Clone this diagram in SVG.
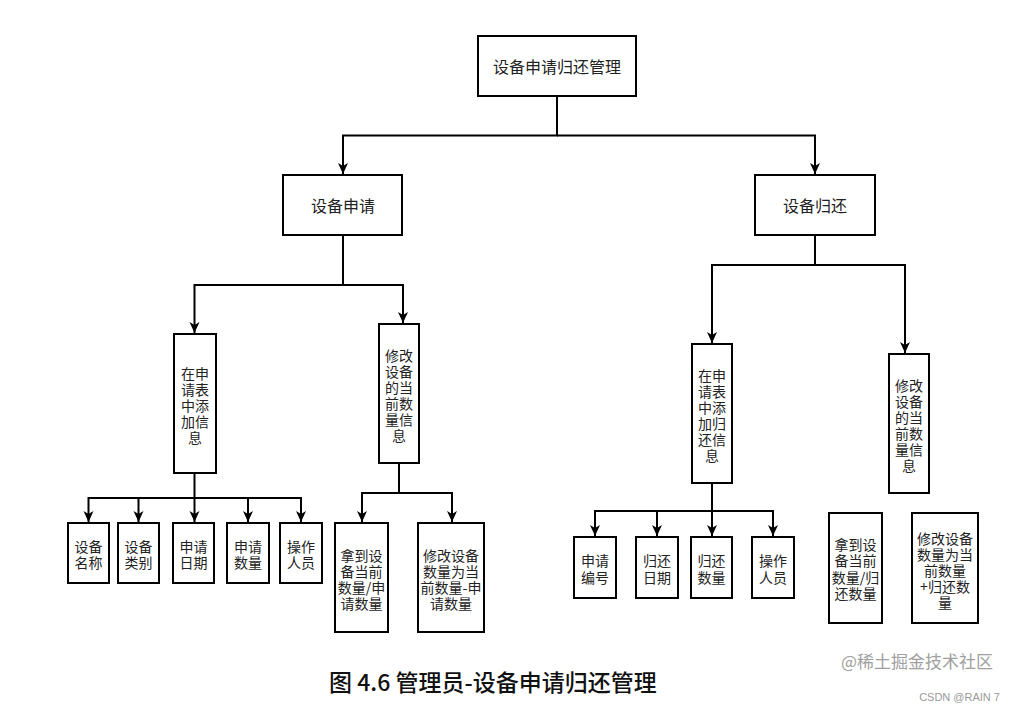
<svg xmlns="http://www.w3.org/2000/svg" width="1014" height="711" viewBox="0 0 1014 711">
<style>
.box{fill:#fff;stroke:#000;stroke-width:2}
.c{fill:none;stroke:#000;stroke-width:2}
.t{font-family:"Noto Sans CJK SC","Noto Sans",sans-serif;font-size:14px;text-anchor:middle;dominant-baseline:central;fill:#222}
.t16{font-size:16px}
.cap{font-family:"Noto Sans CJK SC","Noto Sans",sans-serif;font-size:23px;font-weight:500;fill:#111;dominant-baseline:central}
.wm{font-family:"Noto Sans CJK SC","Noto Sans",sans-serif;font-size:17px;fill:#a0a0a0;text-anchor:end;dominant-baseline:central}
.wm2{font-family:"Liberation Sans",sans-serif;font-size:11px;fill:#999;text-anchor:end;dominant-baseline:central}
</style>
<defs>
<marker id="arr" markerUnits="userSpaceOnUse" markerWidth="12" markerHeight="12" viewBox="0 0 12 12" refX="11" refY="6" orient="auto">
<path d="M0,1 L11,6 L0,11 L3,6 z" fill="#000"/>
</marker>
</defs>
<rect width="1014" height="711" fill="#fff"/>

<g id="connectors">
<path class="c" d="M557,96 V135.5 H343 V174" marker-end="url(#arr)"/>
<path class="c" d="M557,135.5 H815 V174" marker-end="url(#arr)"/>
<path class="c" d="M343,235 V285 H194.5 V333" marker-end="url(#arr)"/>
<path class="c" d="M343,285 H403 V323" marker-end="url(#arr)"/>
<path class="c" d="M815,235 V265 H712 V343" marker-end="url(#arr)"/>
<path class="c" d="M815,265 H905 V353" marker-end="url(#arr)"/>
<path class="c" d="M194.5,473 V498 H88.5 V522" marker-end="url(#arr)"/>
<path class="c" d="M194.5,498 H138.5 V522" marker-end="url(#arr)"/>
<path class="c" d="M194.5,498 V522" marker-end="url(#arr)"/>
<path class="c" d="M194.5,498 H248 V522" marker-end="url(#arr)"/>
<path class="c" d="M194.5,498 H301 V522" marker-end="url(#arr)"/>
<path class="c" d="M399,463 V493 H362 V522" marker-end="url(#arr)"/>
<path class="c" d="M399,493 H452 V522" marker-end="url(#arr)"/>
<path class="c" d="M712,483 V511 H595 V536" marker-end="url(#arr)"/>
<path class="c" d="M712,511 H657 V536" marker-end="url(#arr)"/>
<path class="c" d="M712,511 V536" marker-end="url(#arr)"/>
<path class="c" d="M712,511 H773 V536" marker-end="url(#arr)"/>
</g>

<g id="root">
<rect class="box" x="478" y="36" width="158" height="60"/>
<text class="t t16" x="557" y="66">设备申请归还管理</text>
</g>
<g id="apply">
<rect class="box" x="283" y="175" width="119" height="60"/>
<text class="t t16" x="343" y="205">设备申请</text>
</g>
<g id="return">
<rect class="box" x="755" y="175" width="120" height="60"/>
<text class="t t16" x="815" y="205">设备归还</text>
</g>

<g id="apply-add">
<rect class="box" x="174" y="334" width="42" height="139"/>
<text class="t" x="195" y="372.5"><tspan x="195">在申</tspan><tspan x="195" dy="16">请表</tspan><tspan x="195" dy="16">中添</tspan><tspan x="195" dy="16">加信</tspan><tspan x="195" dy="16">息</tspan></text>
</g>
<g id="apply-modify">
<rect class="box" x="379" y="324" width="40" height="139"/>
<text class="t" x="399" y="354.5"><tspan x="399">修改</tspan><tspan x="399" dy="16">设备</tspan><tspan x="399" dy="16">的当</tspan><tspan x="399" dy="16">前数</tspan><tspan x="399" dy="16">量信</tspan><tspan x="399" dy="16">息</tspan></text>
</g>

<g id="a-name">
<rect class="box" x="68" y="523" width="41" height="60"/>
<text class="t" x="88.5" y="546"><tspan x="88.5">设备</tspan><tspan x="88.5" dy="16">名称</tspan></text>
</g>
<g id="a-type">
<rect class="box" x="118" y="523" width="41" height="60"/>
<text class="t" x="138.5" y="546"><tspan x="138.5">设备</tspan><tspan x="138.5" dy="16">类别</tspan></text>
</g>
<g id="a-date">
<rect class="box" x="173" y="523" width="41" height="60"/>
<text class="t" x="193.5" y="546"><tspan x="193.5">申请</tspan><tspan x="193.5" dy="16">日期</tspan></text>
</g>
<g id="a-qty">
<rect class="box" x="227" y="523" width="42" height="60"/>
<text class="t" x="248" y="546"><tspan x="248">申请</tspan><tspan x="248" dy="16">数量</tspan></text>
</g>
<g id="a-op">
<rect class="box" x="280" y="523" width="42" height="60"/>
<text class="t" x="301" y="546"><tspan x="301">操作</tspan><tspan x="301" dy="16">人员</tspan></text>
</g>

<g id="a-get">
<rect class="box" x="335" y="523" width="53" height="109"/>
<text class="t" x="361.5" y="555"><tspan x="361.5">拿到设</tspan><tspan x="361.5" dy="16">备当前</tspan><tspan x="361.5" dy="16">数量/申</tspan><tspan x="361.5" dy="16">请数量</tspan></text>
</g>
<g id="a-set">
<rect class="box" x="418" y="523" width="66" height="109"/>
<text class="t" x="451" y="555"><tspan x="451">修改设备</tspan><tspan x="451" dy="16">数量为当</tspan><tspan x="451" dy="16">前数量-申</tspan><tspan x="451" dy="16">请数量</tspan></text>
</g>

<g id="return-add">
<rect class="box" x="692" y="344" width="40" height="139"/>
<text class="t" x="712" y="374.5"><tspan x="712">在申</tspan><tspan x="712" dy="16">请表</tspan><tspan x="712" dy="16">中添</tspan><tspan x="712" dy="16">加归</tspan><tspan x="712" dy="16">还信</tspan><tspan x="712" dy="16">息</tspan></text>
</g>
<g id="return-modify">
<rect class="box" x="889" y="354" width="40" height="139"/>
<text class="t" x="909" y="384.5"><tspan x="909">修改</tspan><tspan x="909" dy="16">设备</tspan><tspan x="909" dy="16">的当</tspan><tspan x="909" dy="16">前数</tspan><tspan x="909" dy="16">量信</tspan><tspan x="909" dy="16">息</tspan></text>
</g>

<g id="r-no">
<rect class="box" x="574" y="537" width="42" height="61"/>
<text class="t" x="595" y="560"><tspan x="595">申请</tspan><tspan x="595" dy="16.5">编号</tspan></text>
</g>
<g id="r-date">
<rect class="box" x="636" y="537" width="42" height="61"/>
<text class="t" x="657" y="560"><tspan x="657">归还</tspan><tspan x="657" dy="16.5">日期</tspan></text>
</g>
<g id="r-qty">
<rect class="box" x="691" y="537" width="41" height="61"/>
<text class="t" x="711.5" y="560"><tspan x="711.5">归还</tspan><tspan x="711.5" dy="16.5">数量</tspan></text>
</g>
<g id="r-op">
<rect class="box" x="752" y="537" width="42" height="61"/>
<text class="t" x="773" y="560"><tspan x="773">操作</tspan><tspan x="773" dy="16.5">人员</tspan></text>
</g>

<g id="r-get">
<rect class="box" x="829" y="513" width="53" height="110"/>
<text class="t" x="855.5" y="543.5"><tspan x="855.5">拿到设</tspan><tspan x="855.5" dy="16.5">备当前</tspan><tspan x="855.5" dy="16.5">数量/归</tspan><tspan x="855.5" dy="16.5">还数量</tspan></text>
</g>
<g id="r-set">
<rect class="box" x="912" y="513" width="66" height="110"/>
<text class="t" x="945" y="537.5"><tspan x="945">修改设备</tspan><tspan x="945" dy="16">数量为当</tspan><tspan x="945" dy="16">前数量</tspan><tspan x="945" dy="16">+归还数</tspan><tspan x="945" dy="16">量</tspan></text>
</g>

<g id="caption">
<text class="cap" x="329" y="681">图 4.6 管理员-设备申请归还管理</text>
<text class="wm" x="993" y="660">@稀土掘金技术社区</text>
<text class="wm2" x="1000" y="697">CSDN @RAIN 7</text>
</g>
</svg>
